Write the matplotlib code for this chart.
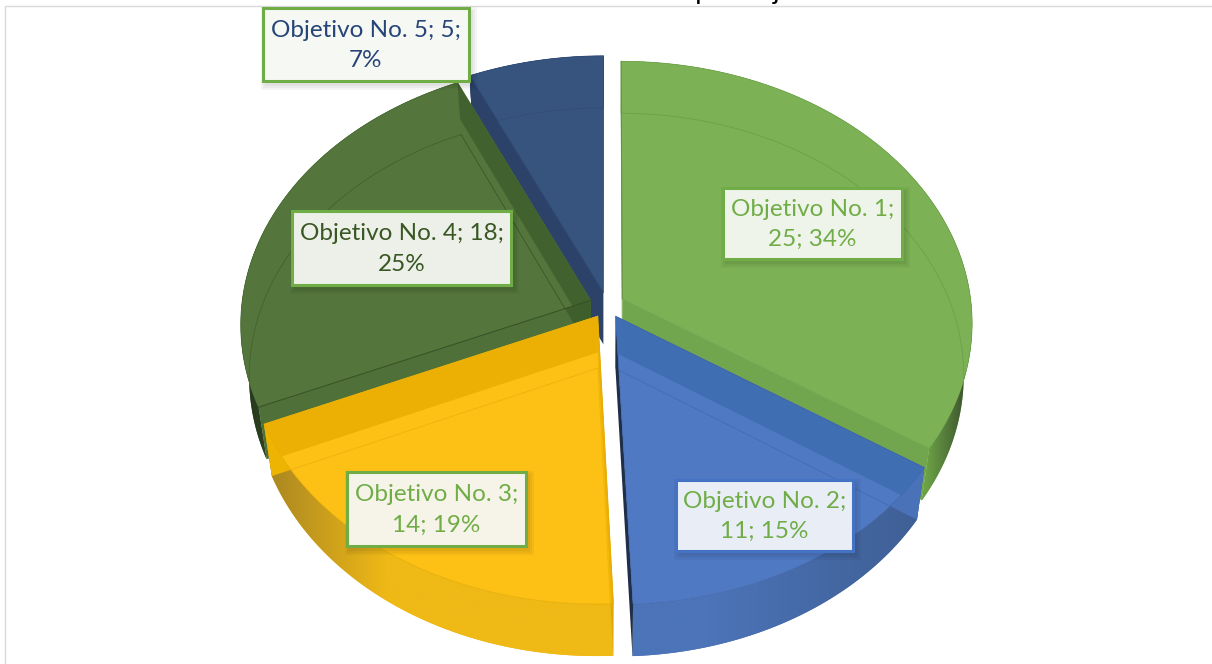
import numpy as np
import matplotlib
matplotlib.use('Agg')
import matplotlib.pyplot as plt
from matplotlib.colors import to_rgb
from matplotlib.patches import Polygon, Rectangle

plt.rcParams['font.family'] = ['Lato', 'DejaVu Sans']

# datos
objetivos = ['Objetivo No. 1', 'Objetivo No. 2', 'Objetivo No. 3', 'Objetivo No. 4', 'Objetivo No. 5']
valores = [25, 11, 14, 18, 5]
titulo = 'Gráfica No. 1. Distribución por objetivos'

# estilos
top_colors = ['#7CB155', '#5079C4', '#FDC015', '#54763C', '#37547F']
wall_colors = ['#6BA045', '#4C74B8', '#EFB916', '#3F5C2A', '#2A4470']
dark_colors = ['#34482A', '#3F5F95', '#A98622', '#26381E', '#1E3358']
cut_start = ['#6FA04C', '#4A72B8', '#E0A800', '#4F7038', '#2C4268']
cut_end = ['#71A64E', '#1F2F4A', '#EDB402', '#3E5F2C', '#2C4268']
edge_colors = ['#6FA34B', '#4468AC', '#E5AD05', '#4A6B34', '#2E4A75']
line_colors = ['#5E8C3E', '#3F66AC', '#E5AD05', '#2F4A20', '#2A4470']
band_colors = ['#6FA04C', '#3A6CAD', '#E8AE00', '#3E5F2C', '#2C4268']
band_alpha = [0.0, 0.75, 0.85, 0.85, 0.0]
grad_from = [320, 100, 220, 300, 300]
grad_to = [365, 315, 340, 360, 360]
label_colors = ['#70AD47', '#70AD47', '#70AD47', '#385723', '#264478']
box_fill = ['#EFF4EA', '#E9EEF6', '#F6F4E8', '#EDF0E8', '#F6F8F3']
box_edge = ['#70AD47', '#4472C4', '#70AD47', '#70AD47', '#70AD47']
# caja de cada etiqueta: x0, y0, x1, y1 en pixeles
boxes = [(723, 188, 902, 259), (676, 480, 853, 551), (347, 472, 526, 546),
         (292, 211, 511, 285), (263, 8, 469, 81)]

# geometria del pie
cx, cy = 607, 305
rx, ry = 349, 260
persp = 0.09
explode = 0.05
depth = 52
shrink = 0.977

total = sum(valores)
limites = np.concatenate([[0], np.cumsum(valores)]) / total * 2 * np.pi


def proj(t, r, off):
    # punto del disco -> pixel, con un poco de perspectiva
    X = r * np.sin(t) + off[0]
    Y = r * np.cos(t) + off[1]
    s = 1 / (1 + persp * Y)
    return np.column_stack([cx + rx * X * s, cy - ry * Y * s])


def abajo(p, f=1.0):
    # el mismo punto en el disco de abajo (f=1) o a medio camino
    p = np.atleast_2d(p)
    k = 1 - (1 - shrink) * f
    return np.column_stack([cx + (p[:, 0] - cx) * k, p[:, 1] + depth * f])


fig = plt.figure(figsize=(12.12, 6.64), dpi=100)
ax = fig.add_axes([0, 0, 1, 1])

# marco y titulo cortado arriba
ax.plot([5, 5, 1212], [664, 6, 6], color='#D9D9D9', lw=1, zorder=1)
ax.text(612, -1, titulo, ha='center', va='baseline', fontsize=19.5, color='black', zorder=1)

orden = [4, 3, 0, 2, 1]
z = 2
for i in orden:
    t0, t1 = limites[i], limites[i + 1]
    mid = (t0 + t1) / 2
    off = (explode * np.sin(mid), explode * np.cos(mid))
    ts = np.linspace(t0, t1, 120)
    arc = proj(ts, 1, off)
    v = proj(np.array([0.0]), 0, off)[0]

    # pared exterior, con degradado segun x
    muro = np.vstack([arc, abajo(arc)[::-1]])
    ax.add_patch(Polygon(muro, closed=True, fc=wall_colors[i], ec='none', zorder=z))
    x0, x1 = muro[:, 0].min(), muro[:, 0].max()
    y0, y1 = muro[:, 1].min(), muro[:, 1].max()
    xs = np.linspace(x0, x1, 256)
    f = np.clip((np.abs(xs - cx) - grad_from[i]) / (grad_to[i] - grad_from[i]), 0, 1)
    a, b = np.array(to_rgb(wall_colors[i])), np.array(to_rgb(dark_colors[i]))
    img = a[None, None, :] * (1 - f[None, :, None]) + b[None, None, :] * f[None, :, None]
    im = ax.imshow(img, extent=(x0, x1, y1, y0), aspect='auto', interpolation='bilinear', zorder=z)
    im.set_clip_path(Polygon(muro, closed=True, transform=ax.transData))
    z += 1

    # paredes de corte
    for p, col in ((arc[0], cut_start[i]), (arc[-1], cut_end[i])):
        quad = np.vstack([[v], [p], abajo(p), abajo(v)])
        ax.add_patch(Polygon(quad, closed=True, fc=col, ec='none', zorder=z))
    z += 1

    # cara superior
    top = np.vstack([[v], arc])
    ax.add_patch(Polygon(top, closed=True, fc=top_colors[i], ec=edge_colors[i], lw=0.5, zorder=z))
    z += 1

    # lo que se ve a traves de la cara: banda oscura y borde inferior
    clip = Polygon(top, closed=True, transform=ax.transData)
    for p in (arc[0], arc[-1]):
        band = np.vstack([[v], [p], abajo(p, 0.7), abajo(v, 0.7)])
        pa = Polygon(band, closed=True, fc=band_colors[i], ec='none', alpha=band_alpha[i], zorder=z)
        ax.add_patch(pa)
        pa.set_clip_path(clip)
        q = abajo(np.array([v, p]))
        ln, = ax.plot(q[:, 0], q[:, 1], color=line_colors[i], lw=0.7, alpha=0.6, zorder=z)
        ln.set_clip_path(clip)
    q = abajo(arc)
    ln, = ax.plot(q[:, 0], q[:, 1], color=line_colors[i], lw=0.6, alpha=0.45, zorder=z)
    ln.set_clip_path(clip)
    # filo marcado donde toca la porcion siguiente
    ax.plot([v[0], arc[0][0]], [v[1], arc[0][1]], color=line_colors[i], lw=0.7, alpha=0.8, zorder=z)
    z += 1

ax.set_xlim(0, 1212)
ax.set_ylim(664, 0)
ax.axis('off')

# etiquetas
z = 200
for i in range(len(valores)):
    x0, y0, x1, y1 = boxes[i]
    # sombra suave
    for g in (5, 3, 1):
        ax.add_patch(Rectangle((x0 + 3 - g, y0 + 4 - g), x1 - x0 + 2 * g, y1 - y0 + 2 * g,
                               fc='black', alpha=0.04, ec='none', zorder=z))
    ax.add_patch(Rectangle((x0, y0), x1 - x0, y1 - y0, fc=box_fill[i], ec=box_edge[i], lw=2.2, zorder=z + 1))
    pct = round(valores[i] / total * 100)
    if i >= 3:
        txt = f'{objetivos[i]}; {valores[i]};\n{pct}%'
    else:
        txt = f'{objetivos[i]};\n{valores[i]}; {pct}%'
    ax.text((x0 + x1) / 2, (y0 + y1) / 2 + 1, txt, ha='center', va='center', fontsize=17.5,
            color=label_colors[i], linespacing=1.55, zorder=z + 2)

fig.savefig('out.png', dpi=100)
